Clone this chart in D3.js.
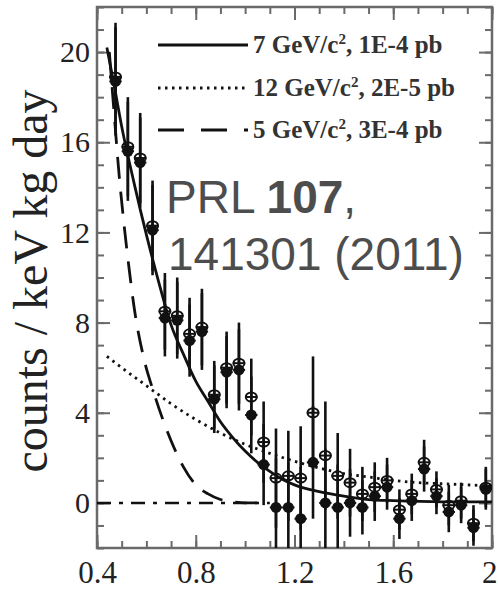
<!DOCTYPE html>
<html><head><meta charset="utf-8">
<script src="https://cdn.jsdelivr.net/npm/d3@7"></script>
<style>body{margin:0;background:#fff}svg{display:block}</style>
</head><body>
<svg id="c" width="498" height="593"></svg>
<script>
// ---- data ----
const energy = [0.475,0.525,0.575,0.625,0.675,0.725,0.775,0.825,0.875,0.925,0.975,1.025,1.075,1.125,1.175,1.225,1.275,1.325,1.375,1.425,1.475,1.525,1.575,1.625,1.675,1.725,1.775,1.825,1.875,1.925,1.975];
const rateFilled = [18.7,15.6,15.1,12.1,8.2,8.1,7.2,7.6,4.6,5.8,5.9,3.9,1.7,-0.2,-0.2,-0.7,1.8,0.0,-0.2,0.0,-0.2,0.3,0.7,-0.7,0.1,1.5,0.3,-0.4,-0.1,-1.1,0.6];
const rateOpen   = [18.9,15.8,15.3,12.3,8.5,8.3,7.5,7.8,4.8,6.0,6.2,4.7,2.7,1.1,1.2,1.1,4.0,2.1,1.2,0.9,0.4,0.7,1.0,-0.3,0.4,1.8,0.6,-0.1,0.1,-0.9,0.7];
const rateErr    = [2.4,2.2,2.0,2.0,1.7,1.7,1.6,1.7,1.5,1.6,1.8,1.7,1.8,2.2,2.0,2.3,2.5,2.4,1.9,1.5,1.2,1.1,1.0,0.9,0.9,1.0,0.8,0.9,0.8,0.8,0.9];
const binHalf = 0.025;

const fit7X  = [0.44,0.47,0.50,0.55,0.60,0.65,0.70,0.75,0.80,0.85,0.90,0.95,1.00,1.05,1.10,1.15,1.20,1.30,1.40,1.50,1.60,1.80,2.00];
const fit7Y  = [20.2,18.5,16.7,14.2,11.9,9.8,7.9,6.6,5.4,4.5,3.6,2.9,2.3,1.8,1.4,1.05,0.8,0.5,0.3,0.15,0.1,0.05,0.05];
const fit12X = [0.44,0.50,0.60,0.70,0.80,0.90,1.00,1.10,1.20,1.30,1.40,1.50,1.60,1.70,1.80,1.90,2.00];
const fit12Y = [6.5,6.0,5.2,4.4,3.7,3.1,2.6,2.2,1.85,1.55,1.3,1.15,1.0,0.9,0.85,0.8,0.75];
const fit5X  = [0.45,0.47,0.49,0.51,0.53,0.55,0.59,0.63,0.67,0.71,0.75,0.80,0.85,0.90,0.95,1.00,1.10];
const fit5Y  = [20.0,17.2,14.5,12.3,10.4,8.7,6.4,4.9,3.6,2.5,1.6,0.8,0.4,0.15,0.05,0.0,0.0];
const bgX = [0.40,1.10];
const bgY = [0.0,0.0];

const xTickValues = [0.4,0.8,1.2,1.6,2.0];
const xTickLabels = ["0.4","0.8","1.2","1.6","2"];
const xMinorTicks = d3.range(0.4,2.001,0.1);
const yTickValues = [0,4,8,12,16,20];
const yTickLabels = ["0","4","8","12","16","20"];
const yMinorTicks = d3.range(-2,22.001,1);
const legendLabels = [["7 GeV/c","2",", 1E-4 pb"],["12 GeV/c","2",", 2E-5 pb"],["5 GeV/c","2",", 3E-4 pb"]];
const yTitle = "counts / keV kg day";
const noteLine1 = ["PRL ","107",","];
const noteLine2 = "141301 (2011)";

// ---- layout ----
const L=97,R=492,T=7,B=548;
const svg=d3.select("#c");
const x=d3.scaleLinear().domain([0.4,2.0]).range([L,R]);
const y=d3.scaleLinear().domain([-2,22]).range([B,T]);
const axisCol="#6a6a6a", ink="#111";

svg.append("defs").append("clipPath").attr("id","pc").append("rect")
  .attr("x",L).attr("y",T).attr("width",R-L).attr("height",B-T);

function styleAxis(g){g.select(".domain").remove();g.selectAll("line").attr("stroke",axisCol).attr("stroke-width",2);}
const serif="'Liberation Serif','Times New Roman',serif";
// bottom
svg.append("g").attr("transform",`translate(0,${B})`)
  .call(d3.axisBottom(x).tickValues(xMinorTicks).tickSize(-7).tickFormat(""))
  .call(styleAxis);
svg.append("g").attr("transform",`translate(0,${B})`)
  .call(d3.axisBottom(x).tickValues(xTickValues).tickSize(-13).tickPadding(13).tickFormat((d,i)=>xTickLabels[i]))
  .call(styleAxis)
  .call(g=>g.selectAll("text").attr("font-family",serif).attr("font-size",31).attr("fill","#222"))
  .call(g=>g.selectAll("text").filter((d,i)=>i===xTickValues.length-1).attr("text-anchor","end").attr("dx",5));
// top
svg.append("g").attr("transform",`translate(0,${T})`)
  .call(d3.axisTop(x).tickValues(xMinorTicks).tickSize(-7).tickFormat("")).call(styleAxis);
svg.append("g").attr("transform",`translate(0,${T})`)
  .call(d3.axisTop(x).tickValues(xTickValues).tickSize(-13).tickFormat("")).call(styleAxis);
// left
svg.append("g").attr("transform",`translate(${L},0)`)
  .call(d3.axisLeft(y).tickValues(yMinorTicks).tickSize(-7).tickFormat("")).call(styleAxis);
svg.append("g").attr("transform",`translate(${L},0)`)
  .call(d3.axisLeft(y).tickValues(yTickValues).tickSize(-13).tickPadding(7).tickFormat((d,i)=>yTickLabels[i]))
  .call(styleAxis)
  .call(g=>g.selectAll("text").attr("font-family",serif).attr("font-size",30).attr("fill","#222"));
// right
svg.append("g").attr("transform",`translate(${R},0)`)
  .call(d3.axisRight(y).tickValues(yMinorTicks).tickSize(-7).tickFormat("")).call(styleAxis);
svg.append("g").attr("transform",`translate(${R},0)`)
  .call(d3.axisRight(y).tickValues(yTickValues).tickSize(-13).tickFormat("")).call(styleAxis);

svg.append("rect").attr("x",L).attr("y",T).attr("width",R-L).attr("height",B-T)
  .attr("fill","none").attr("stroke",axisCol).attr("stroke-width",2.5);

// curves
const plot=svg.append("g").attr("clip-path","url(#pc)");
const line=d3.line().x(d=>x(d[0])).y(d=>y(d[1])).curve(d3.curveMonotoneX);
const curves=[
  {xs:bgX,ys:bgY,dash:"14,8,4,8",w:2.5},
  {xs:fit12X,ys:fit12Y,dash:"2.5,4.5",w:2.8},
  {xs:fit5X,ys:fit5Y,dash:"22,13",w:2.8},
  {xs:fit7X,ys:fit7Y,dash:null,w:2.8}
];
curves.forEach(c=>{
  plot.append("path").datum(d3.zip(c.xs,c.ys)).attr("d",line)
    .attr("fill","none").attr("stroke",ink).attr("stroke-width",c.w)
    .attr("stroke-dasharray",c.dash);
});

// error bars and markers
function drawSeries(vals,open){
  const g=plot.append("g");
  energy.forEach((e,i)=>{
    const v=vals[i], er=rateErr[i];
    g.append("line").attr("x1",x(e)).attr("x2",x(e)).attr("y1",y(v+er)).attr("y2",y(v-er))
      .attr("stroke",ink).attr("stroke-width",2.6);
    g.append("line").attr("x1",x(e-binHalf)).attr("x2",x(e+binHalf)).attr("y1",y(v)).attr("y2",y(v))
      .attr("stroke",ink).attr("stroke-width",2);
    if(open){
      g.append("ellipse").attr("cx",x(e)).attr("cy",y(v)).attr("rx",5.5).attr("ry",4.5)
        .attr("fill","none").attr("stroke",ink).attr("stroke-width",2);
    } else {
      g.append("circle").attr("cx",x(e)).attr("cy",y(v)).attr("r",5.5).attr("fill",ink);
    }
  });
}
drawSeries(rateOpen,true);
drawSeries(rateFilled,false);

// legend
const legY=[45,88,130];
const legDash=[null,"2.5,4.5","26,17"];
legendLabels.forEach((lab,i)=>{
  svg.append("line").attr("x1",158).attr("x2",248).attr("y1",legY[i]).attr("y2",legY[i])
    .attr("stroke",ink).attr("stroke-width",2.8).attr("stroke-dasharray",legDash[i]);
  const t=svg.append("text").attr("x",253).attr("y",legY[i]+8)
    .attr("font-family",serif).attr("font-size",25).attr("font-weight","bold").attr("fill","#333");
  t.append("tspan").text(lab[0]);
  t.append("tspan").attr("dy",-9).attr("font-size",15).text(lab[1]);
  t.append("tspan").attr("dy",9).text(lab[2]);
});

// y title
svg.append("text").attr("transform","translate(47,281) rotate(-90)")
  .attr("text-anchor","middle").attr("font-family",serif).attr("font-size",48).attr("fill","#222")
  .text(yTitle);

// publication note
const sans="'Liberation Sans',Arial,sans-serif";
const n1=svg.append("text").attr("x",166).attr("y",213).attr("font-family",sans).attr("font-size",46).attr("fill","#4d4d4d");
n1.append("tspan").text(noteLine1[0]);
n1.append("tspan").attr("font-weight","bold").text(noteLine1[1]);
n1.append("tspan").text(noteLine1[2]);
svg.append("text").attr("x",168).attr("y",270).attr("font-family",sans).attr("font-size",46).attr("fill","#4d4d4d")
  .text(noteLine2);
</script>
</body></html>
